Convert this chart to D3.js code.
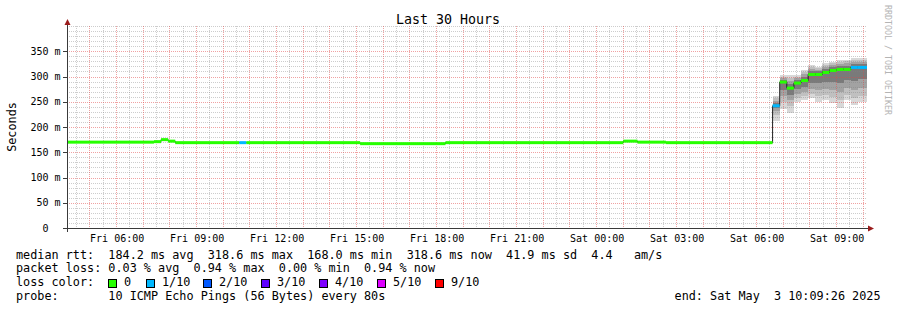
<!DOCTYPE html>
<html>
<head>
<meta charset="utf-8">
<script src="https://cdn.jsdelivr.net/npm/d3@7"></script>
<style>
body { margin: 0; background: #fff; }
svg { display: block; font-family: "DejaVu Sans Mono", monospace; }
</style>
</head>
<body>
<svg id="chart" width="897" height="310"></svg>
<script>
// Time range of the graph (local time)
const startTime = "2025-05-02T04:09:26";
const endTime = "2025-05-03T10:09:26";

// Median rtt (ms) as steps: start time, value, lost pings (of 10)
const medianTimes = [
    "2025-05-02T04:09:26", "2025-05-02T07:25:00", "2025-05-02T07:41:00", "2025-05-02T07:57:00",
    "2025-05-02T08:13:00", "2025-05-02T10:37:00", "2025-05-02T10:53:00", "2025-05-02T15:09:00",
    "2025-05-02T18:21:00", "2025-05-03T01:01:00", "2025-05-03T01:33:00", "2025-05-03T02:37:00",
    "2025-05-03T06:37:00", "2025-05-03T06:53:00", "2025-05-03T07:09:00", "2025-05-03T07:25:00",
    "2025-05-03T07:41:00", "2025-05-03T07:57:00", "2025-05-03T08:13:00", "2025-05-03T08:29:00",
    "2025-05-03T08:45:00", "2025-05-03T09:01:00", "2025-05-03T09:17:00", "2025-05-03T09:33:00",
    "2025-05-03T09:49:00"
];
const medianValues = [
    170, 171, 175, 172,
    169, 169, 169, 167,
    169, 172, 170, 169,
    242, 289, 277, 287,
    292, 304, 304, 308,
    312, 314, 314, 318,
    318
];
const medianLoss = [
    0, 0, 0, 0,
    0, 1, 0, 0,
    0, 0, 0, 0,
    1, 0, 0, 0,
    0, 0, 0, 0,
    0, 0, 0, 1,
    1
];

// Smoke: the 10 sorted ping times (ms) of the steps where they spread out
const smokeTimes = medianTimes.slice(12);
const smokePings = [
    [212, 224, 232, 238, 241, 243, 247, 252, 257, 261],
    [236, 250, 262, 274, 287, 291, 294, 297, 300, 303],
    [228, 242, 254, 264, 275, 280, 286, 292, 298, 303],
    [250, 258, 266, 276, 285, 289, 293, 297, 300, 303],
    [253, 262, 270, 280, 290, 294, 299, 304, 309, 313],
    [257, 266, 276, 288, 302, 306, 311, 315, 319, 323],
    [250, 262, 274, 288, 302, 306, 310, 313, 316, 319],
    [253, 264, 276, 290, 306, 310, 314, 318, 322, 326],
    [247, 260, 274, 290, 310, 314, 318, 322, 326, 329],
    [238, 254, 270, 288, 312, 316, 321, 325, 329, 333],
    [253, 264, 278, 294, 312, 316, 321, 326, 330, 333],
    [243, 258, 274, 292, 316, 320, 325, 329, 333, 337],
    [250, 262, 278, 296, 316, 320, 325, 329, 333, 337]
];

// Loss legend
const lossLabels = ["0", "1/10", "2/10", "3/10", "4/10", "5/10", "9/10"];
const lossColors = ["#26ff00", "#00b8ff", "#0059ff", "#5e00ff", "#7e00ff", "#dd00ff", "#ff0000"];

// Y ticks (ms)
const yMajorTicks = [0, 50, 100, 150, 200, 250, 300, 350];

// Text lines
const legendLines = [
    "median rtt:  184.2 ms avg  318.6 ms max  168.0 ms min  318.6 ms now  41.9 ms sd  4.4   am/s",
    "packet loss: 0.03 % avg  0.94 % max  0.00 % min  0.94 % now",
    "loss color:",
    "probe:       10 ICMP Echo Pings (56 Bytes) every 80s"
];
const endLabel = "end: Sat May  3 10:09:26 2025";

// Smoke shades from outer pair to inner pair
const smokeShades = ["#d8d8d8", "#c0c0c0", "#a2a2a2", "#7a7a7a", "#444444"];

const plot = { left: 67, right: 867, top: 26, bottom: 228 };

const svg = d3.select('#chart');
svg.append('rect').attr('width', 897).attr('height', 310).attr('fill', '#fff');

const t0 = new Date(startTime);
const t1 = new Date(endTime);

const x = d3.scaleTime()
    .domain([t0, t1])
    .range([plot.left, plot.right]);

const y = d3.scaleLinear()
    .domain([0, 400])
    .range([plot.bottom, plot.top]);

const steps = medianTimes.map((t, i) => ({
    t: new Date(t),
    next: i < medianTimes.length - 1 ? new Date(medianTimes[i + 1]) : t1,
    v: medianValues[i],
    loss: medianLoss[i]
}));

// Smoke
const smoke = svg.append('g');
smokeTimes.forEach((t, i) => {
    const idx = medianTimes.indexOf(t);
    const x0 = x(steps[idx].t);
    const x1 = x(steps[idx].next);
    const p = smokePings[i];
    for (let k = 0; k < 5; k++) {
        smoke.append('rect')
            .attr('x', x0)
            .attr('width', x1 - x0)
            .attr('y', y(p[9 - k]))
            .attr('height', y(p[k]) - y(p[9 - k]))
            .attr('fill', smokeShades[k])
            .attr('shape-rendering', 'crispEdges');
    }
});

// Grid
const grid = svg.append('g').attr('stroke-dasharray', '1,1').attr('shape-rendering', 'crispEdges');
const minorY = d3.range(10, 401, 10).filter(v => v % 50 !== 0 || v === 400);
const majorY = yMajorTicks.filter(v => v > 0);
const minorX = d3.timeMinute.every(30).range(t0, t1).filter(d => d.getMinutes() === 30);
const majorX = d3.timeHour.range(t0, t1);

grid.selectAll('.gy').data(minorY).enter().append('line')
    .attr('x1', plot.left).attr('x2', plot.right)
    .attr('y1', d => Math.round(y(d)) + 0.5).attr('y2', d => Math.round(y(d)) + 0.5)
    .attr('stroke', 'rgba(130,130,130,0.4)');
grid.selectAll('.gx').data(minorX).enter().append('line')
    .attr('x1', d => Math.round(x(d)) + 0.5).attr('x2', d => Math.round(x(d)) + 0.5)
    .attr('y1', plot.top).attr('y2', plot.bottom)
    .attr('stroke', 'rgba(130,130,130,0.4)');
grid.selectAll('.my').data(majorY).enter().append('line')
    .attr('x1', plot.left).attr('x2', plot.right)
    .attr('y1', d => Math.round(y(d)) + 0.5).attr('y2', d => Math.round(y(d)) + 0.5)
    .attr('stroke', 'rgba(225,70,70,0.5)');
grid.selectAll('.mx').data(majorX).enter().append('line')
    .attr('x1', d => Math.round(x(d)) + 0.5).attr('x2', d => Math.round(x(d)) + 0.5)
    .attr('y1', plot.top).attr('y2', plot.bottom)
    .attr('stroke', 'rgba(225,70,70,0.5)');

// Median: black step line then loss-coloured band
const line = d3.line()
    .x(d => x(d.t))
    .y(d => y(d.v))
    .curve(d3.curveStepAfter);

svg.append('path')
    .datum(steps.concat([{ t: t1, v: steps[steps.length - 1].v }]))
    .attr('fill', 'none')
    .attr('stroke', '#202020')
    .attr('stroke-width', 1)
    .attr('d', line);

svg.append('g').selectAll('rect').data(steps).enter().append('rect')
    .attr('x', d => x(d.t))
    .attr('width', d => x(d.next) - x(d.t))
    .attr('y', d => y(d.v) - 1.5)
    .attr('height', 3)
    .attr('fill', d => lossColors[d.loss]);

// Axes
const axisColor = '#3a3a3a';
const arrowColor = '#9b1c1c';
svg.append('line')
    .attr('x1', plot.left + 0.5).attr('x2', plot.left + 0.5)
    .attr('y1', plot.bottom + 4).attr('y2', 24)
    .attr('stroke', axisColor);
svg.append('line')
    .attr('x1', plot.left - 4).attr('x2', plot.right + 3)
    .attr('y1', plot.bottom + 0.5).attr('y2', plot.bottom + 0.5)
    .attr('stroke', axisColor);
svg.append('path')
    .attr('d', `M${plot.left + 0.5},19 L${plot.left - 2.5},25 L${plot.left + 3.5},25 Z`)
    .attr('fill', arrowColor);
svg.append('path')
    .attr('d', `M${plot.right + 7},${plot.bottom + 0.5} L${plot.right + 1},${plot.bottom - 2.5} L${plot.right + 1},${plot.bottom + 3.5} Z`)
    .attr('fill', arrowColor);

// Y ticks and labels
svg.append('g').selectAll('line').data(yMajorTicks).enter().append('line')
    .attr('x1', plot.left - 4).attr('x2', plot.left)
    .attr('y1', d => Math.round(y(d)) + 0.5).attr('y2', d => Math.round(y(d)) + 0.5)
    .attr('stroke', axisColor);
svg.append('g').selectAll('text').data(yMajorTicks).enter().append('text')
    .attr('x', d => d === 0 ? 48.5 : 60.5)
    .attr('y', d => y(d) + 3.6)
    .attr('text-anchor', 'end')
    .attr('font-size', '10px')
    .attr('fill', '#000')
    .text(d => d === 0 ? '0' : `${d} m`);

// X labels every 3 hours
const xLabels = d3.timeHour.every(3).range(t0, t1);
const fmt = d3.timeFormat('%a %H:%M');
svg.append('g').selectAll('text').data(xLabels).enter().append('text')
    .attr('x', d => x(d) + 1)
    .attr('y', 241.5)
    .attr('text-anchor', 'middle')
    .attr('font-size', '10px')
    .attr('fill', '#000')
    .text(d => fmt(d));

// Title
svg.append('text')
    .attr('x', 448).attr('y', 24)
    .attr('text-anchor', 'middle')
    .attr('font-size', '13.3px')
    .text('Last 30 Hours');

// Vertical label
svg.append('text')
    .attr('transform', 'translate(16,127) rotate(-90)')
    .attr('text-anchor', 'middle')
    .attr('font-size', '11.8px')
    .text('Seconds');

// Watermark
svg.append('text')
    .attr('transform', 'translate(885,5) rotate(90)')
    .attr('font-size', '8.3px')
    .attr('fill', '#b4b4b4')
    .text('RRDTOOL / TOBI OETIKER');

// Legend lines
const baselines = [258.5, 272, 286, 299.5];
svg.append('g').selectAll('text').data(legendLines).enter().append('text')
    .attr('x', 16)
    .attr('y', (d, i) => baselines[i])
    .attr('font-size', '11.8px')
    .style('white-space', 'pre')
    .text(d => d);

svg.append('text')
    .attr('x', 880.5).attr('y', baselines[3])
    .attr('text-anchor', 'end')
    .attr('font-size', '11.8px')
    .style('white-space', 'pre')
    .text(endLabel);

// Loss colour boxes
const boxX = [108, 146, 203, 261, 319, 377, 435];
const lossLegend = svg.append('g');
lossLabels.forEach((label, i) => {
    lossLegend.append('rect')
        .attr('x', boxX[i] + 0.5).attr('y', 279.5)
        .attr('width', 8).attr('height', 8)
        .attr('fill', lossColors[i])
        .attr('stroke', '#000')
        .attr('stroke-width', 1);
    lossLegend.append('text')
        .attr('x', boxX[i] + 16).attr('y', baselines[2])
        .attr('font-size', '11.8px')
        .text(label);
});
</script>
</body>
</html>
